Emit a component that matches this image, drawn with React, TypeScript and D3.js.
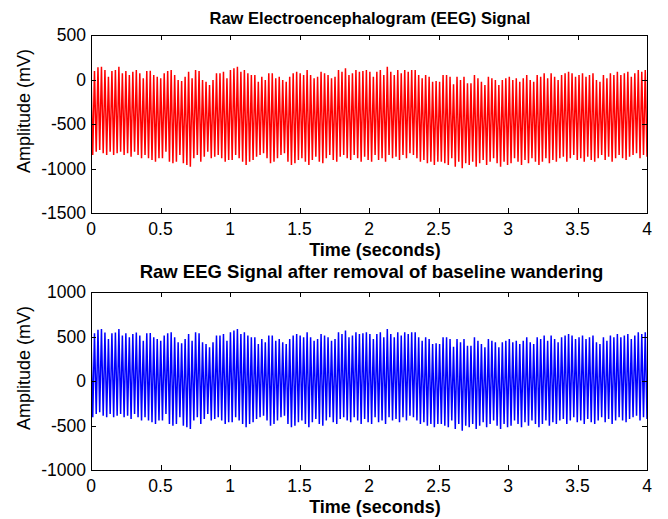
import React, { useEffect, useRef } from 'react';
import * as d3 from 'd3';

// raw EEG: one peak and one trough per cycle (mV)
const rawPeaks = [
  70, 96, 137, 144, 106, 31, 96, 106, 144, 70, 96, 51, 88, 106, 70, 13, 96, 99, 51, 31,
  13, 70, 96, 107, 51, -6, -17, 31, 88, 13, 107, 96, -6, -25, -62, -6, 70, 70, 88, 13,
  107, 126, 144, 88, 107, 70, 51, 51, -25, 31, -6, 70, 70, 13, 31, -6, -25, 31, 70, 88,
  70, 51, 107, 51, 13, 31, 88, 70, 51, 13, 31, 107, 88, 126, 51, 70, 107, 88, 96, 107,
  88, 31, 88, 107, 51, 144, 88, 51, 107, 70, 107, 88, 107, 107, 51, 13, 51, 31, -25, -17,
  -25, 51, 51, 31, -54, 31, -6, 31, -43, -43, 51, 13, -25, -62, 31, 13, -6, -62, -6, 13,
  31, -6, 13, -25, 13, 51, -6, -25, 51, 31, 70, 13, 70, 31, -6, 51, 70, 88, 70, 31,
  51, 70, 31, 51, 70, -6, -25, 51, 13, 70, 51, 88, 51, 70, 88, 31, 70, 107, 88, 107,
];
const rawTroughs = [
  -848, -811, -792, -829, -848, -811, -848, -829, -811, -848, -829, -867, -811, -848, -885, -848, -885, -904, -923, -885,
  -885, -811, -923, -942, -923, -848, -942, -960, -980, -885, -848, -923, -867, -811, -885, -867, -848, -885, -923, -904,
  -904, -848, -885, -923, -960, -923, -904, -867, -848, -829, -885, -942, -923, -885, -848, -829, -923, -960, -942, -904,
  -885, -923, -960, -904, -867, -923, -942, -885, -848, -904, -923, -867, -848, -885, -904, -848, -885, -923, -867, -904,
  -923, -848, -904, -885, -923, -848, -885, -867, -904, -848, -885, -829, -848, -885, -923, -904, -942, -923, -960, -923,
  -923, -942, -960, -885, -980, -923, -998, -942, -960, -923, -980, -942, -904, -960, -923, -885, -942, -980, -923, -960,
  -942, -885, -923, -960, -904, -942, -885, -923, -960, -923, -885, -942, -904, -923, -885, -867, -923, -885, -848, -904,
  -885, -923, -867, -904, -923, -885, -848, -904, -867, -923, -885, -848, -885, -904, -867, -848, -829, -885, -848, -867,
];
// estimated baseline level that was removed (mV)
const baseline = -440;

const duration = 4;
const xTicks = [0, 0.5, 1, 1.5, 2, 2.5, 3, 3.5, 4];
const topYTicks = [-1500, -1000, -500, 0, 500];
const bottomYTicks = [-1000, -500, 0, 500, 1000];

const topTitle = 'Raw Electroencephalogram (EEG) Signal';
const bottomTitle = 'Raw EEG Signal after removal of baseline wandering';
const xLabel = 'Time (seconds)';
const yLabel = 'Amplitude (mV)';

const W = 668, H = 519;
const FONT = '"Liberation Sans", Arial, Helvetica, sans-serif';

function toSamples(peaks: number[], troughs: number[], offset: number) {
  const vals: number[] = [];
  peaks.forEach((p, i) => {
    vals.push(p - offset);
    vals.push(troughs[i] - offset);
  });
  const n = vals.length;
  return vals.map((v, k) => ({ t: (k * duration) / (n - 1), v }));
}

export default function App() {
  const ref = useRef<SVGSVGElement>(null);

  useEffect(() => {
    const svg = d3.select(ref.current);
    svg.selectAll('*').remove();

    const left = 91, right = 647;
    const mid = (left + right) / 2;
    const panels = [
      { top: 35, bottom: 213, domain: [-1500, 500], ticks: topYTicks, title: topTitle,
        titleSize: 16.5, titleGap: 11.5, titleShift: 1,
        color: '#ff0000', data: toSamples(rawPeaks, rawTroughs, 0) },
      { top: 292, bottom: 470, domain: [-1000, 1000], ticks: bottomYTicks, title: bottomTitle,
        titleSize: 18.5, titleGap: 14.5, titleShift: 2.5,
        color: '#0000ff', data: toSamples(rawPeaks, rawTroughs, baseline) },
    ];

    svg.append('rect').attr('width', W).attr('height', H).attr('fill', '#fff');

    panels.forEach((p, i) => {
      const x = d3.scaleLinear().domain([0, duration]).range([left, right]);
      const y = d3.scaleLinear().domain(p.domain).range([p.bottom, p.top]);
      const g = svg.append('g');

      const clipId = 'clip' + i;
      g.append('clipPath').attr('id', clipId)
        .append('rect').attr('x', left).attr('y', p.top)
        .attr('width', right - left).attr('height', p.bottom - p.top);

      const line = d3.line<{ t: number; v: number }>()
        .x(d => x(d.t))
        .y(d => y(d.v));

      g.append('path')
        .datum(p.data)
        .attr('clip-path', `url(#${clipId})`)
        .attr('fill', 'none')
        .attr('stroke', p.color)
        .attr('stroke-width', 1.5)
        .attr('stroke-linejoin', 'bevel')
        .attr('d', line);

      // box
      g.append('rect')
        .attr('x', left + 0.5).attr('y', p.top + 0.5)
        .attr('width', right - left).attr('height', p.bottom - p.top)
        .attr('fill', 'none').attr('stroke', '#000').attr('stroke-width', 1)
        .attr('shape-rendering', 'crispEdges');

      const tickLen = 5;
      xTicks.forEach(t => {
        const xx = Math.round(x(t)) + 0.5;
        g.append('line').attr('x1', xx).attr('x2', xx)
          .attr('y1', p.bottom).attr('y2', p.bottom - tickLen)
          .attr('stroke', '#000').attr('shape-rendering', 'crispEdges');
        g.append('line').attr('x1', xx).attr('x2', xx)
          .attr('y1', p.top).attr('y2', p.top + tickLen)
          .attr('stroke', '#000').attr('shape-rendering', 'crispEdges');
        g.append('text')
          .attr('x', x(t)).attr('y', p.bottom + 21.5)
          .attr('text-anchor', 'middle')
          .attr('font-family', FONT).attr('font-size', 17.5)
          .text(String(t));
      });

      p.ticks.forEach(v => {
        const yy = Math.round(y(v)) + 0.5;
        g.append('line').attr('x1', left).attr('x2', left + tickLen)
          .attr('y1', yy).attr('y2', yy)
          .attr('stroke', '#000').attr('shape-rendering', 'crispEdges');
        g.append('line').attr('x1', right).attr('x2', right - tickLen)
          .attr('y1', yy).attr('y2', yy)
          .attr('stroke', '#000').attr('shape-rendering', 'crispEdges');
        g.append('text')
          .attr('x', left - 5).attr('y', y(v))
          .attr('dy', '0.35em')
          .attr('text-anchor', 'end')
          .attr('font-family', FONT).attr('font-size', 17.5)
          .text(String(v));
      });

      g.append('text')
        .attr('x', mid + 6).attr('y', p.bottom + 43)
        .attr('text-anchor', 'middle')
        .attr('font-family', FONT).attr('font-size', 18).attr('font-weight', 'bold')
        .text(xLabel);

      g.append('text')
        .attr('x', mid + p.titleShift).attr('y', p.top - p.titleGap)
        .attr('text-anchor', 'middle')
        .attr('font-family', FONT).attr('font-size', p.titleSize).attr('font-weight', 'bold')
        .text(p.title);

      const cy = (p.top + p.bottom) / 2 - 13;
      g.append('text')
        .attr('transform', `translate(30,${cy}) rotate(-90)`)
        .attr('text-anchor', 'middle')
        .attr('font-family', FONT).attr('font-size', 18)
        .text(yLabel);
    });
  }, []);

  return (
    <svg ref={ref} width={W} height={H}
      style={{ position: 'absolute', left: 0, top: 0, display: 'block' }} />
  );
}
